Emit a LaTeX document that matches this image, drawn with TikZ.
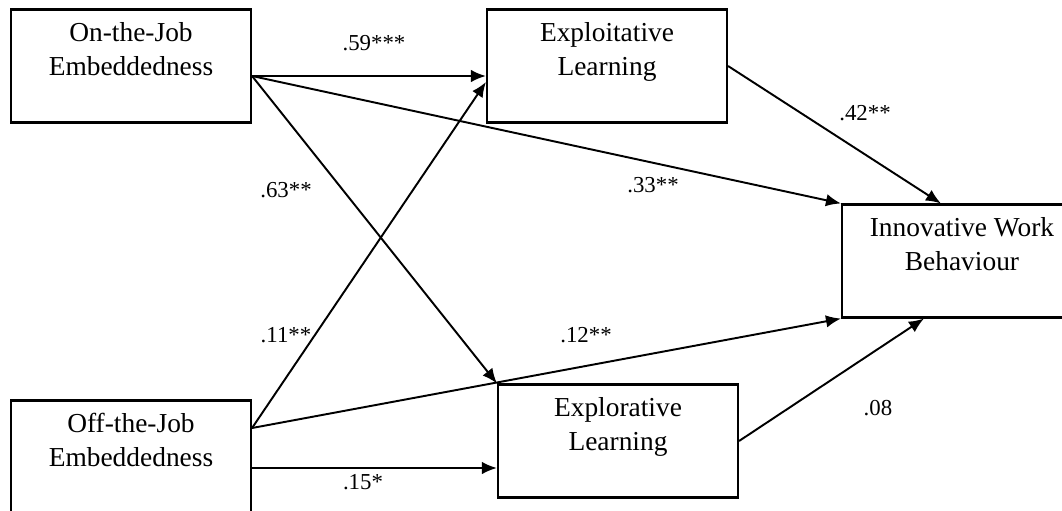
\documentclass[tikz,border=0pt]{standalone}
\usepackage{fontspec}
\setmainfont{Liberation Serif}
\usepackage{tikz}
\usetikzlibrary{arrows.meta}

\tikzset{
  box/.style = {draw, line width=0.6pt, minimum width=2.4cm, minimum height=1.13cm,
                align=center, font=\fontsize{7.8}{9.7}\selectfont},
  arr/.style = {draw, line width=0.55pt, -{Latex[length=1.5mm,width=1.25mm]}},
  coef/.style = {font=\fontsize{6.5}{7.8}\selectfont}
}

\begin{document}
\begin{tikzpicture}
            \useasboundingbox (0,0) rectangle (10.62,5.10);
            % constructs
            \node[box] (onjob) at (1.31,4.44) {On-the-Job\\Embeddedness\\\mbox{}};
            \node[box] (offjob) at (1.31,0.53) {Off-the-Job\\Embeddedness\\\mbox{}};
            \node[box] (exploit) at (6.07,4.44) {Exploitative\\Learning\\\mbox{}};
            \node[box] (explore) at (6.18,0.69) {Explorative\\Learning\\\mbox{}};
            \node[box] (iwb) at (9.62,2.49) {Innovative Work\\Behaviour\\\mbox{}};
            % where the paths leave and meet the boxes
            \coordinate (onout) at ([yshift=-1mm]onjob.east);
            \coordinate (offup) at ([yshift=2.9mm]offjob.east);
            \coordinate (offdown) at ([yshift=-1.1mm]offjob.east);
            % paths
            \draw[arr] (onout) -- ([yshift=-1mm]exploit.west);
            \draw[arr] (onout) -- (iwb.north west);
            \draw[arr] (onout) -- (explore.north west);
            \draw[arr] (exploit.east) -- ([xshift=1cm]iwb.north west);
            \draw[arr] (offup) -- ([yshift=-1.6mm]exploit.west);
            \draw[arr] (offup) -- (iwb.south west);
            \draw[arr] (offdown) -- ([yshift=-2.7mm]explore.west);
            \draw[arr] (explore.east) -- ([xshift=0.83cm]iwb.south west);
            % coefficients
            \node[coef] (c59) at (3.74,4.67) {.59***};
            \node[coef] (c63) at (2.86,3.20) {.63**};
            \node[coef] (c42) at (8.65,3.97) {.42**};
            \node[coef] (c33) at (6.53,3.25) {.33**};
            \node[coef] (c11) at (2.86,1.75) {.11**};
            \node[coef] (c12) at (5.86,1.75) {.12**};
            \node[coef] (c08) at (8.78,1.02) {.08};
            \node[coef] (c15) at (3.63,0.28) {.15*};
        \end{tikzpicture}
\end{document}
